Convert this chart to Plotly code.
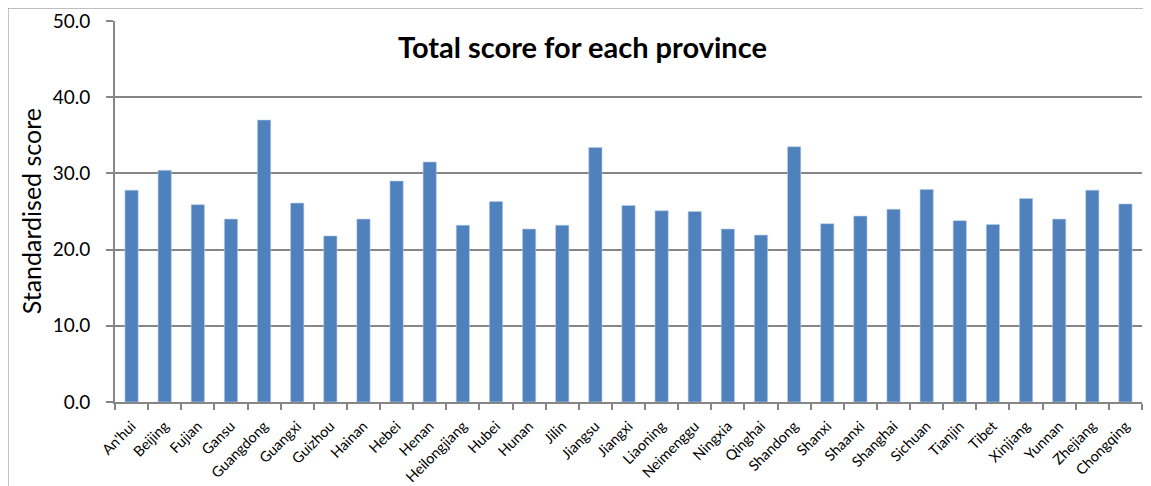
import plotly.graph_objects as go

provinces = ["An'hui", "Beijing", "Fujian", "Gansu", "Guangdong", "Guangxi", "Guizhou",
             "Hainan", "Hebei", "Henan", "Heilongjiang", "Hubei", "Hunan", "Jilin",
             "Jiangsu", "Jiangxi", "Liaoning", "Neimenggu", "Ningxia", "Qinghai",
             "Shandong", "Shanxi", "Shaanxi", "Shanghai", "Sichuan", "Tianjin", "Tibet",
             "Xinjiang", "Yunnan", "Zhejiang", "Chongqing"]
scores = [27.8, 30.4, 25.9, 24.0, 37.0, 26.1, 21.8,
          24.0, 29.0, 31.5, 23.2, 26.3, 22.7, 23.2,
          33.4, 25.8, 25.1, 25.0, 22.7, 21.9,
          33.5, 23.4, 24.4, 25.3, 27.9, 23.8, 23.3,
          26.7, 24.0, 27.8, 26.0]
y_ticks = [0, 10, 20, 30, 40, 50]

font = "Lato, 'Open Sans', sans-serif"
grid = "#868686"

fig = go.Figure(go.Bar(
    x=provinces, y=scores,
    marker=dict(color="#4F81BD", line=dict(color="#B9CDE5", width=0.6)),
))

fig.update_layout(
    width=1143, height=478,
    margin=dict(l=107, r=9, t=13, b=84),
    paper_bgcolor="white", plot_bgcolor="white",
    bargap=0.6, showlegend=False,
    font=dict(family=font, color="black"),
    annotations=[
        dict(text="<b>Total score for each province</b>", xref="paper", yref="paper",
             x=0.455, y=0.932, xanchor="center", yanchor="middle", showarrow=False,
             font=dict(size=29, family=font, color="black")),
        dict(text="Standardised score", xref="paper", yref="paper",
             x=-0.082, y=0.5, xanchor="center", yanchor="middle", showarrow=False,
             textangle=-90, font=dict(size=25, family=font, color="black")),
    ],
    shapes=[dict(type="rect", xref="paper", yref="paper",
                 x0=-0.1042, x1=1.05, y0=-0.4, y1=1.034,
                 line=dict(color="#868686", width=1), fillcolor="rgba(0,0,0,0)", layer="below")],
)

fig.update_xaxes(
    showline=True, linecolor=grid, linewidth=2,
    ticks="outside", tickson="boundaries", ticklen=6, tickcolor=grid, tickwidth=2,
    tickangle=-45, tickfont=dict(size=14.5, family=font, color="black"),
    ticklabelstandoff=8,
    showgrid=False, automargin=False,
)
fig.update_yaxes(
    range=[0, 50], tickvals=y_ticks, tickformat=".1f",
    showline=True, linecolor=grid, linewidth=2,
    ticks="outside", ticklen=7, tickcolor=grid, tickwidth=2,
    showgrid=True, gridcolor=grid, gridwidth=2,
    tickfont=dict(size=19, family=font, color="black"),
    ticklabelstandoff=12,
    zeroline=False, automargin=False,
)

fig.write_html("out.html")
